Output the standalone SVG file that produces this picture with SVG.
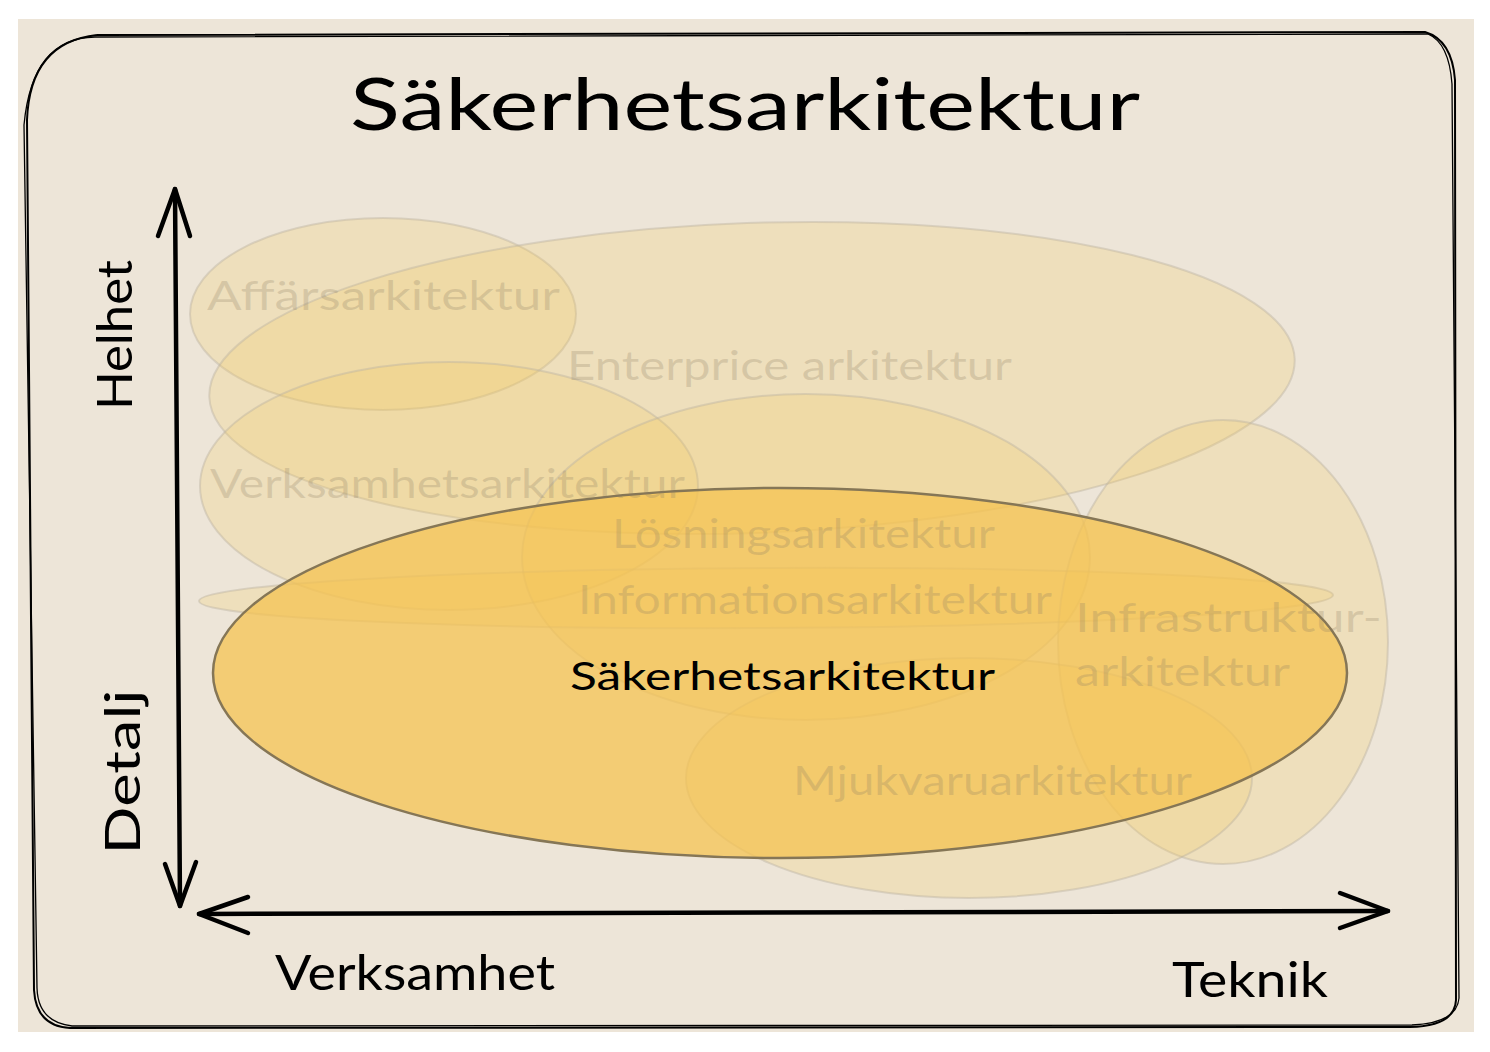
<svg xmlns="http://www.w3.org/2000/svg" width="1490" height="1052" viewBox="0 0 1490 1052">
<style>
.hand{font-family:"Lato","Noto Sans",sans-serif;}
.faint{fill:#f5c64e;fill-opacity:0.2;stroke:#bdb3a2;stroke-opacity:0.45;stroke-width:2;}
.ftxt{fill:#8a7c62;fill-opacity:0.25;font-size:40px;}
.axis{fill:none;stroke:#000;stroke-width:4.5;stroke-linecap:round;stroke-linejoin:round;}
.lbl{fill:#000;font-size:48px;}
</style>
<rect x="0" y="0" width="1490" height="1052" fill="#ffffff"/>
<rect x="18" y="19" width="1456" height="1013" fill="#ede5d8"/>
<g id="frame" fill="none" stroke="#000" stroke-width="2">
<path d="M97 35 L1425 32 Q1452 40 1455 80 L1456 1000 Q1455 1026 1410 1027 L70 1028 Q36 1026 34 990 L27 120 Q30 42 97 35"/>
<path d="M95 37 L1428 34 Q1449 43 1452 84 L1459 998 Q1457 1023 1412 1025 L72 1026 Q38 1022 37 988 L24 125 Q32 38 95 37" stroke-width="1.3"/>
</g>
<g id="title"><text class="hand" x="745" y="130" font-size="72" text-anchor="middle" textLength="790" lengthAdjust="spacingAndGlyphs">Säkerhetsarkitektur</text></g>
<g id="n-affars"><ellipse class="faint" cx="383" cy="314" rx="193" ry="96"/></g>
<g id="n-enterprice"><ellipse class="faint" cx="752" cy="378" rx="543" ry="155" transform="rotate(-2 752 378)"/></g>
<g id="n-verksamhet"><ellipse class="faint" cx="449" cy="486" rx="249" ry="124"/></g>
<g id="n-losning"><ellipse class="faint" cx="806" cy="557" rx="284" ry="163"/></g>
<g id="n-information"><ellipse class="faint" cx="766" cy="598" rx="567" ry="30" transform="rotate(-0.3 766 598)"/></g>
<g id="n-infrastruktur"><ellipse class="faint" cx="1223" cy="642" rx="165" ry="222"/></g>
<g id="n-mjukvara"><ellipse class="faint" cx="969" cy="778" rx="283" ry="120"/></g>
<g id="n-sakerhet"><ellipse cx="780" cy="673" rx="567" ry="185" fill="#f5c24e" fill-opacity="0.72" stroke="#857656" stroke-width="2.5"/></g>
<g id="labels" class="hand">
<text class="ftxt" x="207" y="310" textLength="353" lengthAdjust="spacingAndGlyphs">Affärsarkitektur</text>
<text class="ftxt" x="567" y="380" textLength="445" lengthAdjust="spacingAndGlyphs">Enterprice arkitektur</text>
<text class="ftxt" x="210" y="498" textLength="475" lengthAdjust="spacingAndGlyphs">Verksamhetsarkitektur</text>
<text class="ftxt" x="612" y="548" textLength="383" lengthAdjust="spacingAndGlyphs">Lösningsarkitektur</text>
<text class="ftxt" x="578" y="614" textLength="474" lengthAdjust="spacingAndGlyphs">Informationsarkitektur</text>
<text class="ftxt" x="1075" y="632" textLength="307" lengthAdjust="spacingAndGlyphs">Infrastruktur-</text>
<text class="ftxt" x="1075" y="686" textLength="215" lengthAdjust="spacingAndGlyphs">arkitektur</text>
<text class="ftxt" x="793" y="795" textLength="399" lengthAdjust="spacingAndGlyphs">Mjukvaruarkitektur</text>
<text x="570" y="690" font-size="38" fill="#000" textLength="425" lengthAdjust="spacingAndGlyphs">Säkerhetsarkitektur</text>
</g>
<g id="connectors">
<path class="axis" d="M175 189 Q177 540 180 906"/>
<path class="axis" d="M158 236 L175 189 L190 236"/>
<path class="axis" d="M165 864 L180 906 L196 862"/>
<path class="axis" d="M199 914 Q800 910 1388 911"/>
<path class="axis" d="M248 897 L199 914 L248 933"/>
<path class="axis" d="M1340 893 L1388 911 L1340 928"/>
</g>
<g id="axis-labels" class="hand">
<text class="lbl" transform="translate(132 335) rotate(-90)" text-anchor="middle" textLength="150" lengthAdjust="spacingAndGlyphs">Helhet</text>
<text class="lbl" transform="translate(140 772) rotate(-90)" text-anchor="middle" textLength="165" lengthAdjust="spacingAndGlyphs">Detalj</text>
<text class="lbl" x="275" y="990" textLength="280" lengthAdjust="spacingAndGlyphs">Verksamhet</text>
<text class="lbl" x="1172" y="997" textLength="156" lengthAdjust="spacingAndGlyphs">Teknik</text>
</g>
</svg>
